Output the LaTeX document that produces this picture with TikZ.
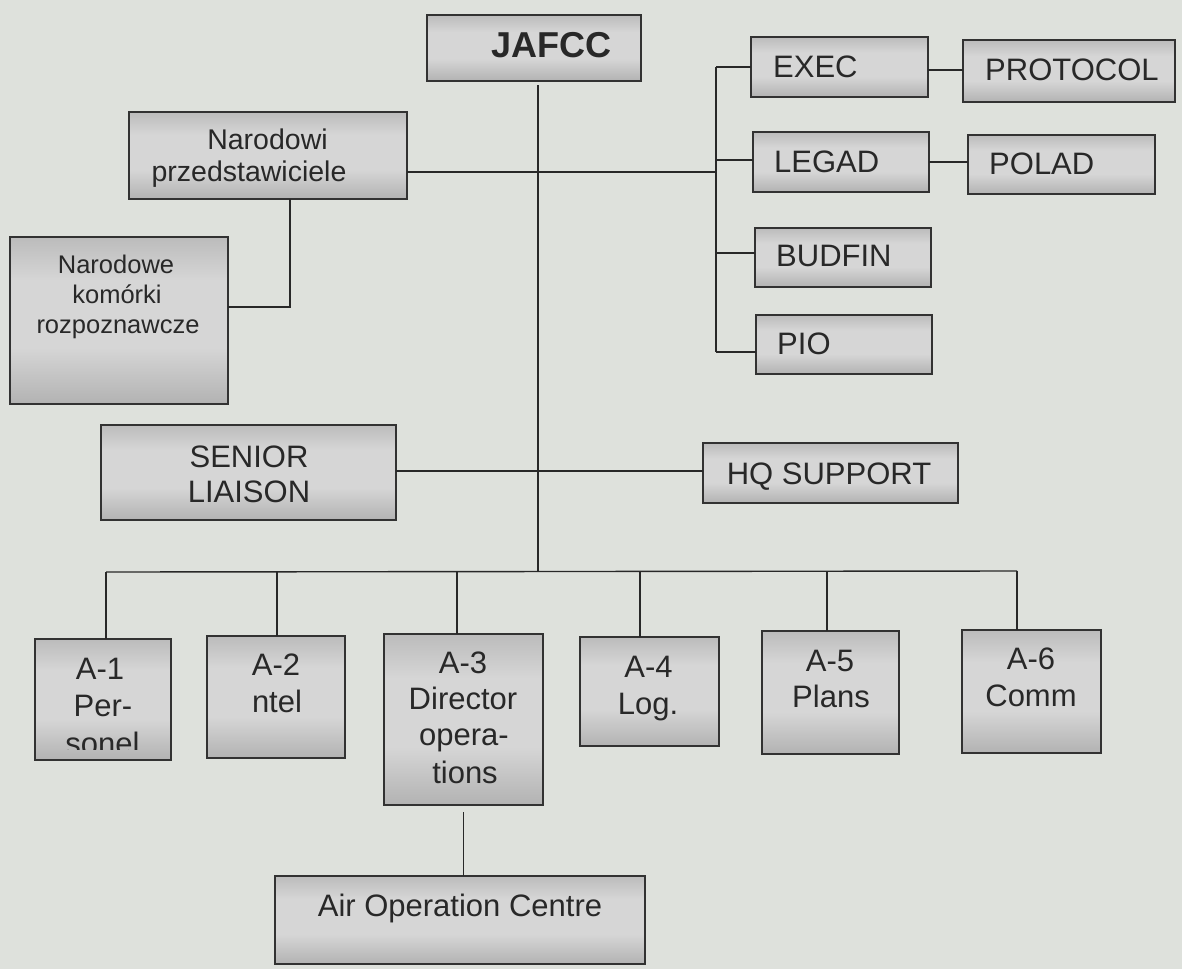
\documentclass[tikz,border=0pt]{standalone}
\usepackage{fontspec}
\setmainfont{Liberation Sans}
% palette
\definecolor{paper}{RGB}{222,225,220}
\definecolor{ink}{RGB}{40,40,40}
\definecolor{edge}{RGB}{50,50,50}
\definecolor{shT}{RGB}{122,122,122}
\definecolor{shTb}{RGB}{165,165,165}
\definecolor{shM}{RGB}{214,214,214}
\definecolor{shBb}{RGB}{155,155,155}
\definecolor{shB}{RGB}{112,112,112}
% box fill: darker at the top and bottom, light in the middle
\pgfdeclareverticalshading{boxshade}{100bp}{color(0bp)=(shB); color(14bp)=(shBb); color(42bp)=(shM); color(62bp)=(shM); color(86bp)=(shTb); color(100bp)=(shT)}
\begin{document}
\begin{tikzpicture}[x=1pt,y=-1pt,
  wire/.style={draw=ink, line width=1.4pt},
  orgbox/.style={draw=edge, line width=1.6pt, shading=boxshade, inner sep=0pt, outer sep=0pt},
  lbl/.style={anchor=base, inner sep=0pt, text=ink, font=\fontsize{31}{36}\selectfont},
  lblw/.style={lbl, anchor=base west},
  lblnar/.style={lbl, font=\fontsize{28.5}{32}\selectfont},
  lblkom/.style={lbl, font=\fontsize{25.5}{30}\selectfont},
  lblhead/.style={lbl, font=\bfseries\fontsize{36}{40}\selectfont}]

\fill[paper] (0,0) rectangle (1182,969);
\useasboundingbox (0,0) rectangle (1182,969);

% ---- boxes ----
\node[orgbox, minimum width=214pt, minimum height=66pt]  (jafcc)    at (534,48)      {};
\node[orgbox, minimum width=278pt, minimum height=87pt]  (narod)    at (268,155.5)   {};
\node[orgbox, minimum width=218pt, minimum height=167pt] (komor)    at (119,320.5)   {};
\node[orgbox, minimum width=177pt, minimum height=60pt]  (exec)     at (839.5,67)    {};
\node[orgbox, minimum width=212pt, minimum height=62pt]  (protocol) at (1069,71)     {};
\node[orgbox, minimum width=176pt, minimum height=60pt]  (legad)    at (841,162)     {};
\node[orgbox, minimum width=187pt, minimum height=59pt]  (polad)    at (1061.5,164.5){};
\node[orgbox, minimum width=176pt, minimum height=59pt]  (budfin)   at (843,257.5)   {};
\node[orgbox, minimum width=176pt, minimum height=59pt]  (pio)      at (844,344.5)   {};
\node[orgbox, minimum width=295pt, minimum height=95pt]  (senior)   at (248.5,472.5) {};
\node[orgbox, minimum width=255pt, minimum height=60pt]  (hq)       at (830.5,473)   {};
\node[orgbox, minimum width=136pt, minimum height=121pt] (a1)       at (103,699.5)   {};
\node[orgbox, minimum width=138pt, minimum height=122pt] (a2)       at (276,697)     {};
\node[orgbox, minimum width=159pt, minimum height=171pt] (a3)       at (463.5,719.5) {};
\node[orgbox, minimum width=139pt, minimum height=109pt] (a4)       at (649.5,691.5) {};
\node[orgbox, minimum width=137pt, minimum height=123pt] (a5)       at (830.5,692.5) {};
\node[orgbox, minimum width=139pt, minimum height=123pt] (a6)       at (1031.5,691.5){};
\node[orgbox, minimum width=370pt, minimum height=88pt]  (aoc)      at (460,920)     {};

% ---- junction points ----
\coordinate (trunk) at (538,572);
\coordinate (nj)    at (716,172);
\coordinate (kE)    at (716,67);
\coordinate (kL)    at (716,160);
\coordinate (kB)    at (716,253);
\coordinate (kP)    at (716,352);
\coordinate (xp)    at (945,70);
\coordinate (nk)    at (290,307);
\coordinate (sh)    at (550,471);
\coordinate (b1)    at (106,572);
\coordinate (b2)    at (277,572);
\coordinate (b3)    at (457,572);
\coordinate (b4)    at (640,572);
\coordinate (b5)    at (827,571);
\coordinate (b6)    at (1017,571);

% ---- connectors ----
\draw[wire, shorten <=4pt] (jafcc.south -| trunk) -- (trunk);
\draw[wire] (narod.east |- nj) -- (nj);
\draw[wire] (kE) -- (kP);
\draw[wire] (kE) -- (kE -| exec.west);
\draw[wire] (kL) -- (kL -| legad.west);
\draw[wire] (kB) -- (kB -| budfin.west);
\draw[wire] (kP) -- (kP -| pio.west);
\draw[wire] (xp -| exec.east) -- (xp -| protocol.west);
\draw[wire] (legad.east) -- (legad.east -| polad.west);
\draw[wire] (narod.south -| nk) -- (nk) -- (komor.east |- nk);
\draw[wire] (senior.east |- sh) -- (sh -| hq.west);
\draw[wire] (b1) -- (b6);
\draw[wire] (b1) -- (b1 |- a1.north);
\draw[wire] (b2) -- (b2 |- a2.north);
\draw[wire] (b3) -- (b3 |- a3.north);
\draw[wire] (b4) -- (b4 |- a4.north);
\draw[wire] (b5) -- (b5 |- a5.north);
\draw[wire] (b6) -- (b6 |- a6.north);
\draw[wire, shorten <=7pt] (a3.south) -- (a3.south |- aoc.north);

% ---- labels ----
\node[lblhead] (jafcc-t) at (551,57) {JAFCC};
\node[lblnar] (narod-t1) at (267.5,149) {Narodowi};
\node[lblnar] (narod-t2) at (249,181) {przedstawiciele};
\node[lblkom] (komor-t1) at (116,273) {Narodowe};
\node[lblkom] (komor-t2) at (117,303) {komórki};
\node[lblkom] (komor-t3) at (118,333) {rozpoznawcze};
\node[lblw] (exec-t)     at (773,77)  {EXEC};
\node[lblw] (protocol-t) at (985,80)  {PROTOCOL};
\node[lblw] (legad-t)    at (774,172) {LEGAD};
\node[lblw] (polad-t)    at (989,174) {POLAD};
\node[lblw] (budfin-t)   at (776,266) {BUDFIN};
\node[lblw] (pio-t)      at (777,354) {PIO};
\node[lbl] (senior-t1) at (249,467) {SENIOR};
\node[lbl] (senior-t2) at (249,502) {LIAISON};
\node[lbl] (hq-t)      at (829,484) {HQ SUPPORT};
\node[lbl] (a1-t1) at (100,679) {A-1};
\node[lbl] (a1-t2) at (103,716) {Per-};
\begin{scope}
  \clip (35,639) rectangle (171,749);
  \node[lbl] (a1-t3) at (102.5,754) {sonel};
\end{scope}
\node[lbl] (a2-t1) at (276,675) {A-2};
\node[lbl] (a2-t2) at (277,712) {ntel};
\node[lbl] (a3-t1) at (463,673) {A-3};
\node[lbl] (a3-t2) at (463,709) {Director};
\node[lbl] (a3-t3) at (464,745) {opera-};
\node[lbl] (a3-t4) at (465,783) {tions};
\node[lbl] (a4-t1) at (648.5,677) {A-4};
\node[lbl] (a4-t2) at (648,714) {Log.};
\node[lbl] (a5-t1) at (830,671) {A-5};
\node[lbl] (a5-t2) at (831,707) {Plans};
\node[lbl] (a6-t1) at (1031,669) {A-6};
\node[lbl] (a6-t2) at (1031,706) {Comm};
\node[lbl] (aoc-t) at (460,916) {Air Operation Centre};
\end{tikzpicture}
\end{document}
